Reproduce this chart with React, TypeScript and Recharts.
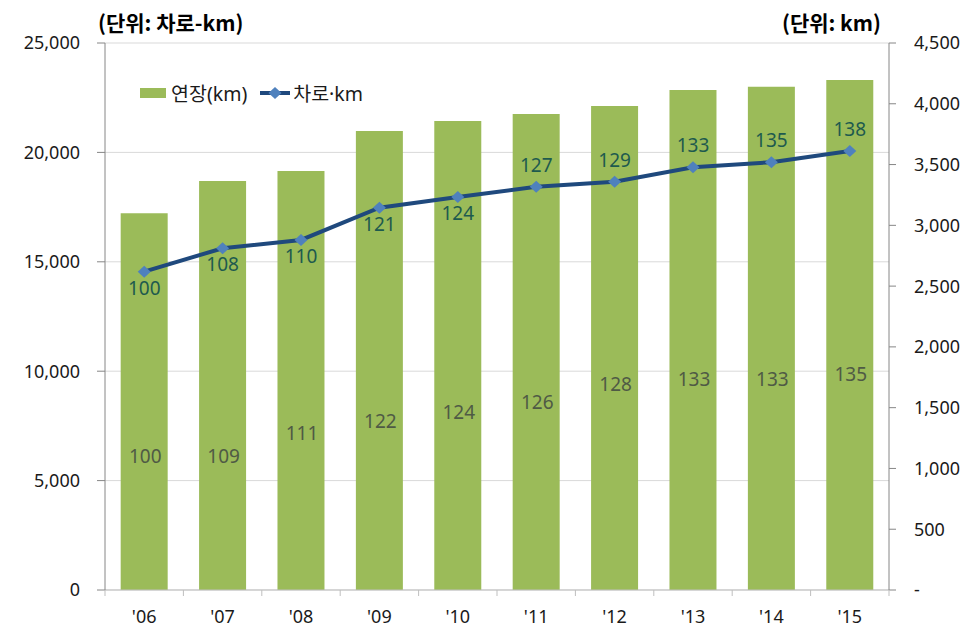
import React from "react";
import {
  ComposedChart,
  Bar,
  Line,
  XAxis,
  YAxis,
  CartesianGrid,
  Legend,
} from "recharts";

// 연도별 고속도로 연장(km) / 차로·km 추이
const years = ["'06", "'07", "'08", "'09", "'10", "'11", "'12", "'13", "'14", "'15"];
const laneKm = [14550, 15620, 16000, 17470, 17960, 18430, 18660, 19320, 19550, 20060];
const lengthKm = [3100, 3365, 3447, 3776, 3858, 3916, 3982, 4113, 4141, 4196];
// '06 = 100 기준 지수
const laneIndex = [100, 108, 110, 121, 124, 127, 129, 133, 135, 138];
const lengthIndex = [100, 109, 111, 122, 124, 126, 128, 133, 133, 135];
// 막대 안 지수 라벨이 놓인 높이 (오른쪽 축 단위)
const lengthIndexAt = [1100, 1100, 1290, 1390, 1465, 1545, 1695, 1735, 1735, 1775];

const leftTicks = [0, 5000, 10000, 15000, 20000, 25000];
const rightTicks = [0, 500, 1000, 1500, 2000, 2500, 3000, 3500, 4000, 4500];

const data = years.map((year, i) => ({
  year,
  laneKm: laneKm[i],
  lengthKm: lengthKm[i],
  lengthIndexAt: lengthIndexAt[i],
}));

const FONT = "'Noto Sans', 'Noto Sans CJK KR', sans-serif";
const BAR_COLOR = "#9BBB59";
const LINE_COLOR = "#1F497D";
const DOT_COLOR = "#4F81BD";

const CHART_W = 970;
const CHART_H = 631;
const LEFT_W = 97;
const RIGHT_W = 89;
const BAND = (CHART_W - LEFT_W - RIGHT_W) / years.length;

const fmt = (v: number) => v.toLocaleString("en-US");

const Diamond = (props: any) => {
  const { cx, cy, index } = props;
  if (cx == null || cy == null) return null;
  return (
    <path
      key={`d-${index}`}
      d={`M${cx},${cy - 6} L${cx + 6.5},${cy} L${cx},${cy + 6} L${cx - 6.5},${cy} Z`}
      fill={DOT_COLOR}
    />
  );
};

const laneLabel = (props: any) => {
  const { x, y, index } = props;
  // 앞쪽 5개는 점 아래, 뒤쪽은 점 위
  const dy = index < 5 ? 16 : -22;
  return (
    <text
      key={`ll-${index}`}
      x={x}
      y={y + dy}
      textAnchor="middle"
      dominantBaseline="central"
      fontSize={19}
      fontFamily={FONT}
      fill="#1E5A4E"
    >
      {laneIndex[index]}
    </text>
  );
};

const lengthLabel = (props: any) => {
  const { x, y, index } = props;
  return (
    <text
      key={`bl-${index}`}
      x={x + 1}
      y={y}
      textAnchor="middle"
      dominantBaseline="central"
      fontSize={19}
      fontFamily={FONT}
      fill="#4F5A45"
    >
      {lengthIndex[index]}
    </text>
  );
};

const YearTick = (props: any) => {
  const { x, y, payload, index } = props;
  return (
    <g>
      <line x1={x - BAND / 2} x2={x - BAND / 2} y1={y} y2={y + 6} stroke="#BFBFBF" />
      {index === years.length - 1 && (
        <line x1={x + BAND / 2} x2={x + BAND / 2} y1={y} y2={y + 6} stroke="#BFBFBF" />
      )}
      <text x={x} y={y + 33} textAnchor="middle" fontSize={18} fontFamily={FONT} fill="#1a1a1a">
        {payload.value}
      </text>
    </g>
  );
};

const LegendBox = () => (
  <div style={{ display: "flex", alignItems: "center", fontSize: 19.5, fontFamily: FONT, color: "#1a1a1a" }}>
    <span style={{ display: "inline-block", width: 26, height: 10, background: BAR_COLOR }} />
    <span style={{ marginLeft: 5 }}>연장(km)</span>
    <svg width={30} height={14} style={{ marginLeft: 13 }}>
      <line x1={0} x2={30} y1={7} y2={7} stroke={LINE_COLOR} strokeWidth={4} />
      <path d="M15,1 L21.5,7 L15,13 L8.5,7 Z" fill={DOT_COLOR} />
    </svg>
    <span style={{ marginLeft: 3 }}>차로·km</span>
  </div>
);

const titleStyle: React.CSSProperties = {
  position: "absolute",
  top: 2,
  fontSize: 21,
  lineHeight: "24px",
  fontWeight: 700,
  fontFamily: "'Noto Sans CJK KR', sans-serif",
};

export default function App() {
  return (
    <div style={{ position: "relative", width: CHART_W, height: CHART_H, fontFamily: FONT }}>
      <div style={{ ...titleStyle, left: 90 }}>(단위: 차로-km)</div>
      <div style={{ ...titleStyle, right: 97 }}>(단위: km)</div>
      <ComposedChart
        width={CHART_W}
        height={CHART_H}
        data={data}
        margin={{ top: 35, right: 0, bottom: 9, left: 0 }}
        barCategoryGap="20%"
      >
        <CartesianGrid vertical={false} stroke="#D9D9D9" />
        <XAxis
          dataKey="year"
          height={40}
          axisLine={{ stroke: "#BFBFBF" }}
          tickLine={false}
          tickSize={0}
          tickMargin={0}
          interval={0}
          tick={<YearTick />}
        />
        <YAxis
          width={LEFT_W}
          domain={[0, 25000]}
          ticks={leftTicks}
          tickFormatter={fmt}
          axisLine={{ stroke: "#868686" }}
          tickLine={{ stroke: "#868686" }}
          tickSize={8}
          tickMargin={17}
          tick={{ fontSize: 18, fill: "#1a1a1a", fontFamily: FONT }}
        />
        <YAxis
          yAxisId="right"
          orientation="right"
          width={RIGHT_W}
          domain={[0, 4500]}
          ticks={rightTicks}
          tickFormatter={(v: number) => (v === 0 ? "-" : fmt(v))}
          axisLine={{ stroke: "#868686" }}
          tickLine={{ stroke: "#868686" }}
          tickSize={7}
          tickMargin={18}
          tick={{ fontSize: 18, fill: "#1a1a1a", fontFamily: FONT, textAnchor: "start" }}
        />
        <Legend
          layout="horizontal"
          verticalAlign="middle"
          align="center"
          content={<LegendBox />}
          wrapperStyle={{ top: 70, left: 132, width: "auto", height: 22 }}
        />
        <Bar yAxisId="right" dataKey="lengthKm" name="연장(km)" fill={BAR_COLOR} isAnimationActive={false} />
        <Line
          yAxisId="right"
          dataKey="lengthIndexAt"
          stroke="none"
          dot={false}
          activeDot={false}
          legendType="none"
          label={lengthLabel}
          isAnimationActive={false}
        />
        <Line
          dataKey="laneKm"
          name="차로·km"
          stroke={LINE_COLOR}
          strokeWidth={4}
          dot={<Diamond />}
          activeDot={false}
          label={laneLabel}
          isAnimationActive={false}
        />
      </ComposedChart>
    </div>
  );
}
